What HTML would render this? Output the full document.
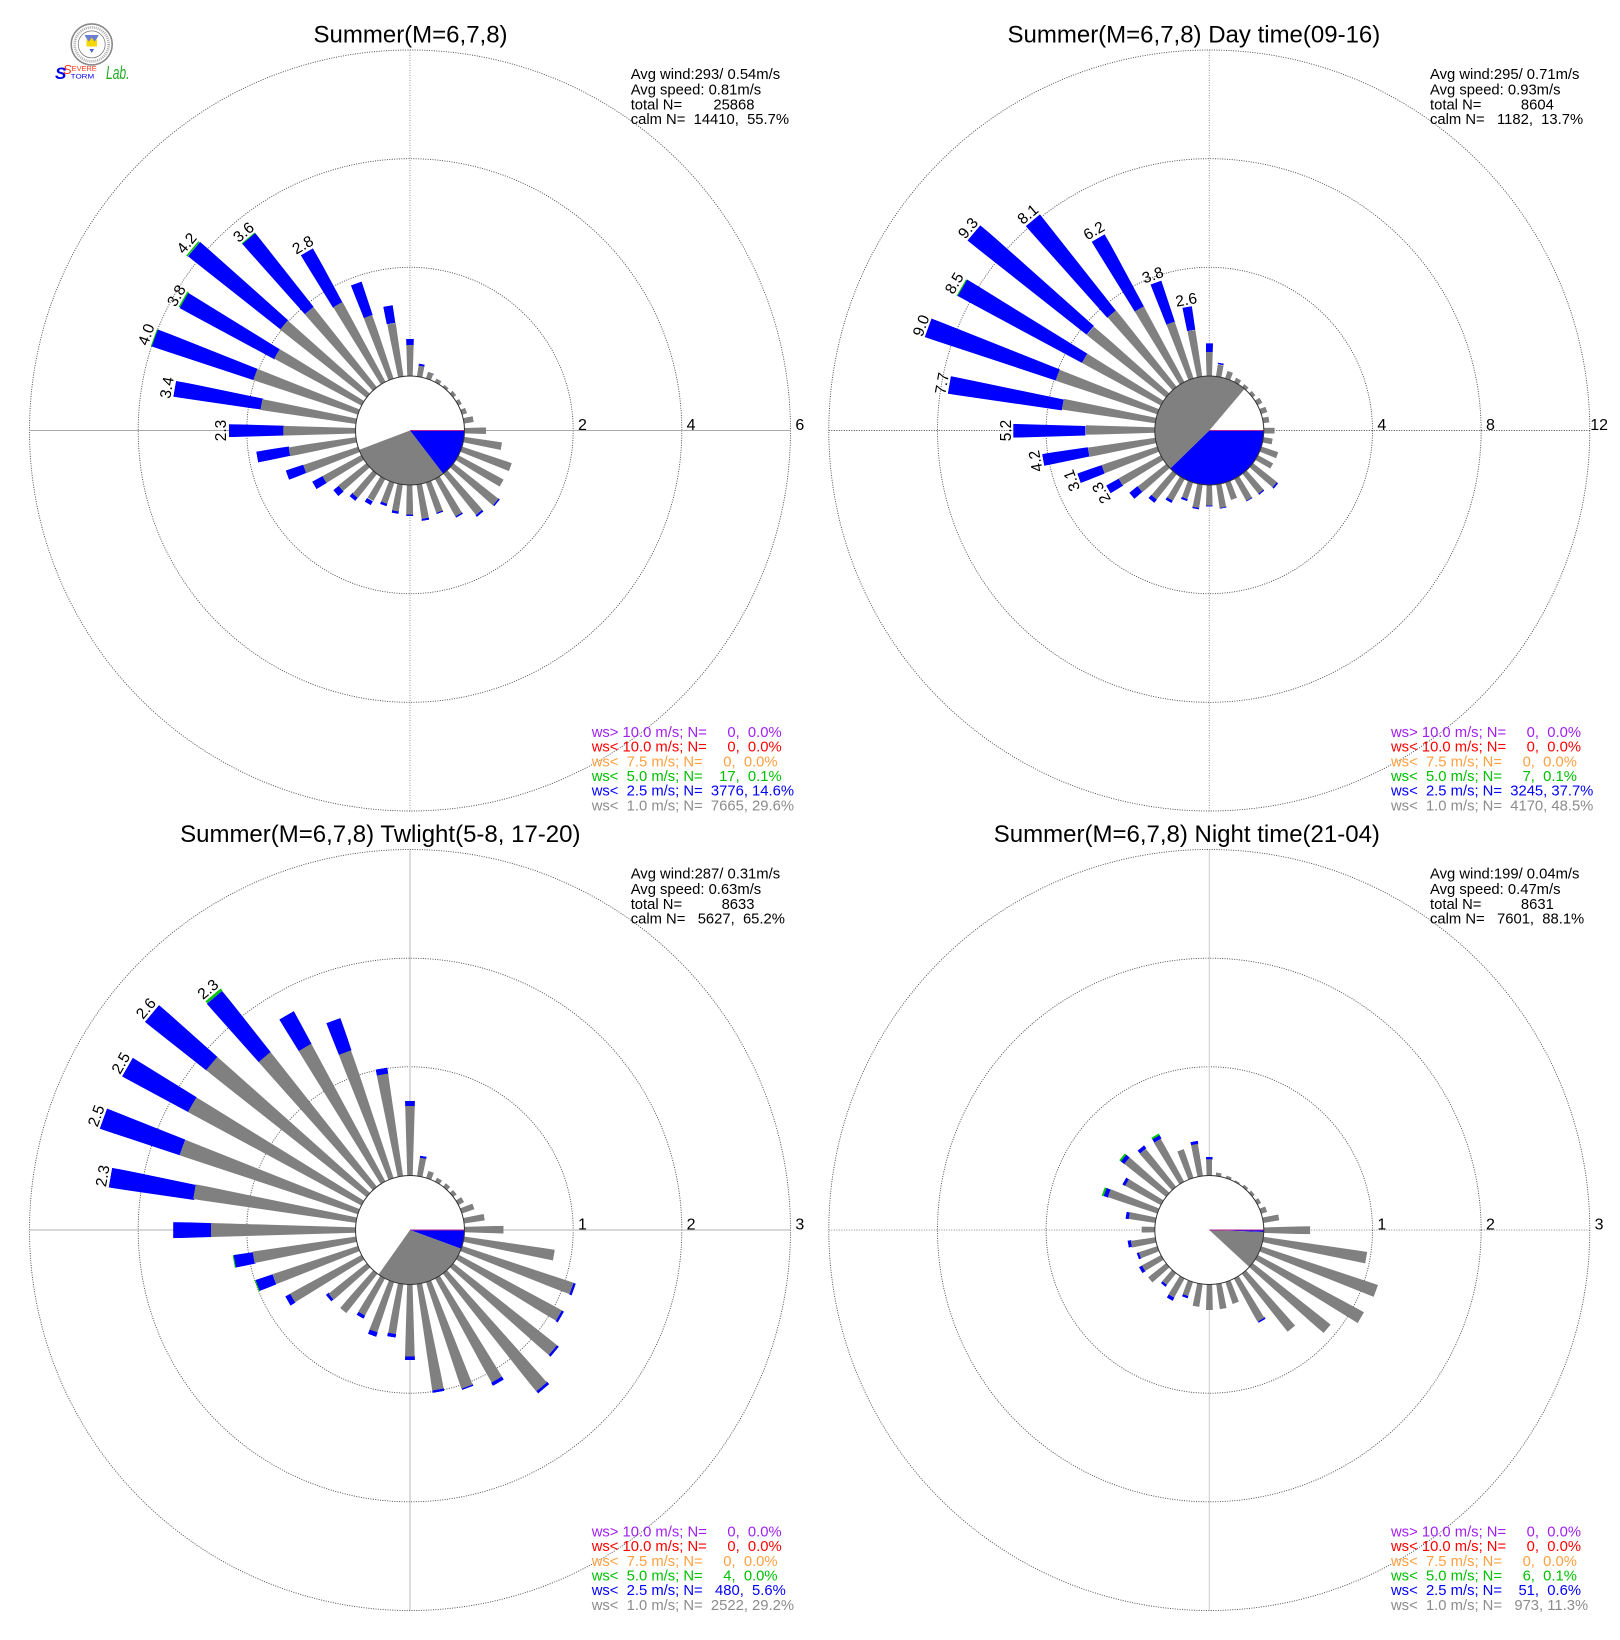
<!DOCTYPE html>
<html><head><meta charset="utf-8">
<style>
html,body{margin:0;padding:0;background:#fff}
#w{position:relative;width:1620px;height:1640px;overflow:hidden;background:#fff}
svg{position:absolute;left:0;top:0}
.p{position:absolute;left:0;top:0;width:1620px;height:1640px}
.b{position:absolute;display:block;--v0:0;--R:calc(54.5 + var(--v) * var(--s));--R0:calc(54.5 + var(--v0) * var(--s) - 0.6);left:calc(var(--cx) * 1px - var(--R) * 0.0297px - 1.1px);top:calc((var(--cy) - var(--R)) * 1px);width:calc(var(--R) * 0.0594px + 2.2px);height:calc(var(--R) * 1px);transform-origin:50% 100%;transform:rotate(calc(var(--a) * 1deg));clip-path:polygon(calc(50% - var(--R0) * 0.0297px - 1.1px) calc((var(--R) - var(--R0)) * 1px),calc(50% + var(--R0) * 0.0297px + 1.1px) calc((var(--R) - var(--R0)) * 1px),100% 0,0 0)}
.g{background:#808080}.u{background:#0000ff}.n{background:#00c800}
text{font-family:"Liberation Sans",Arial,sans-serif;white-space:pre}
</style></head>
<body>
<div id="w">
<svg width="1620" height="1640" viewBox="0 0 1620 1640">
 <g fill="none" stroke="#444" stroke-width="0.9" stroke-dasharray="1 1.4">
  <circle cx="410" cy="430.5" r="163.2"/><circle cx="410" cy="430.5" r="271.8"/><circle cx="410" cy="430.5" r="380.5"/>
  <circle cx="1209.3" cy="430.5" r="163.2"/><circle cx="1209.3" cy="430.5" r="271.8"/><circle cx="1209.3" cy="430.5" r="380.5"/>
  <circle cx="410" cy="1230" r="163.2"/><circle cx="410" cy="1230" r="271.8"/><circle cx="410" cy="1230" r="380.5"/>
  <circle cx="1209.3" cy="1230" r="163.2"/><circle cx="1209.3" cy="1230" r="271.8"/><circle cx="1209.3" cy="1230" r="380.5"/>
 </g>
 <line x1="29.5" y1="430.5" x2="790.5" y2="430.5" stroke="#aaa" stroke-width="1"/>
 <line x1="410" y1="50" x2="410" y2="811" stroke="#999" stroke-width="1" stroke-dasharray="1 1.5"/>
 <line x1="828.8" y1="430.5" x2="1589.8" y2="430.5" stroke="#444" stroke-width="1" stroke-dasharray="1 1.5"/>
 <line x1="1209.3" y1="50" x2="1209.3" y2="811" stroke="#999" stroke-width="1" stroke-dasharray="1 1.5"/>
 <line x1="29.5" y1="1230" x2="790.5" y2="1230" stroke="#ccc" stroke-width="1.5"/>
 <line x1="410" y1="849.5" x2="410" y2="1610.5" stroke="#bbb" stroke-width="1"/>
 <line x1="828.8" y1="1230" x2="1589.8" y2="1230" stroke="#888" stroke-width="1" stroke-dasharray="1 1.5"/>
 <line x1="1209.3" y1="849.5" x2="1209.3" y2="1610.5" stroke="#ccc" stroke-width="1"/>
</svg>

<div class="p" style="--cx:410;--cy:430.5;--s:54.33">
<i class="b u" style="--a:0;--v:.69;--v0:.57"></i><i class="b g" style="--a:0;--v:.57"></i>
<i class="b u" style="--a:10;--v:.24;--v0:.21"></i><i class="b g" style="--a:10;--v:.21"></i>
<i class="b u" style="--a:20;--v:.135;--v0:.12"></i><i class="b g" style="--a:20;--v:.12"></i>
<i class="b g" style="--a:30;--v:.07"></i>
<i class="b g" style="--a:40;--v:.05"></i>
<i class="b g" style="--a:50;--v:.07"></i>
<i class="b g" style="--a:60;--v:.075"></i>
<i class="b g" style="--a:70;--v:.1"></i>
<i class="b g" style="--a:80;--v:.18"></i>
<i class="b g" style="--a:90;--v:.39"></i>
<i class="b g" style="--a:100;--v:.71"></i>
<i class="b g" style="--a:110;--v:.96"></i>
<i class="b g" style="--a:120;--v:.94"></i>
<i class="b u" style="--a:130;--v:1.08;--v0:1.05"></i><i class="b g" style="--a:130;--v:1.05"></i>
<i class="b u" style="--a:140;--v:1.0;--v0:.97"></i><i class="b g" style="--a:140;--v:.97"></i>
<i class="b u" style="--a:150;--v:.82;--v0:.79"></i><i class="b g" style="--a:150;--v:.79"></i>
<i class="b u" style="--a:160;--v:.62;--v0:.60"></i><i class="b g" style="--a:160;--v:.60"></i>
<i class="b u" style="--a:170;--v:.67;--v0:.64"></i><i class="b g" style="--a:170;--v:.64"></i>
<i class="b u" style="--a:180;--v:.58;--v0:.55"></i><i class="b g" style="--a:180;--v:.55"></i>
<i class="b u" style="--a:190;--v:.54;--v0:.50"></i><i class="b g" style="--a:190;--v:.50"></i>
<i class="b u" style="--a:200;--v:.46;--v0:.41"></i><i class="b g" style="--a:200;--v:.41"></i>
<i class="b u" style="--a:210;--v:.54;--v0:.47"></i><i class="b g" style="--a:210;--v:.47"></i>
<i class="b u" style="--a:220;--v:.64;--v0:.56"></i><i class="b g" style="--a:220;--v:.56"></i>
<i class="b u" style="--a:230;--v:.78;--v0:.66"></i><i class="b g" style="--a:230;--v:.66"></i>
<i class="b u" style="--a:240;--v:1.04;--v0:.82"></i><i class="b g" style="--a:240;--v:.82"></i>
<i class="b u" style="--a:250;--v:1.40;--v0:1.07"></i><i class="b g" style="--a:250;--v:1.07"></i>
<i class="b u" style="--a:260;--v:1.85;--v0:1.25"></i><i class="b g" style="--a:260;--v:1.25"></i>
<i class="b u" style="--a:270;--v:2.34;--v0:1.33"></i><i class="b g" style="--a:270;--v:1.33"></i>
<i class="b u" style="--a:280;--v:3.40;--v0:1.77"></i><i class="b g" style="--a:280;--v:1.77"></i>
<i class="b n" style="--a:290;--v:4.02;--v0:4.0"></i><i class="b u" style="--a:290;--v:4.0;--v0:2.03"></i><i class="b g" style="--a:290;--v:2.03"></i>
<i class="b n" style="--a:300;--v:3.82;--v0:3.8"></i><i class="b u" style="--a:300;--v:3.8;--v0:1.82"></i><i class="b g" style="--a:300;--v:1.82"></i>
<i class="b n" style="--a:310;--v:4.22;--v0:4.2"></i><i class="b u" style="--a:310;--v:4.2;--v0:2.03"></i><i class="b g" style="--a:310;--v:2.03"></i>
<i class="b n" style="--a:320;--v:3.62;--v0:3.6"></i><i class="b u" style="--a:320;--v:3.6;--v0:1.88"></i><i class="b g" style="--a:320;--v:1.88"></i>
<i class="b u" style="--a:330;--v:2.8;--v0:1.67"></i><i class="b g" style="--a:330;--v:1.67"></i>
<i class="b u" style="--a:340;--v:1.88;--v0:1.24"></i><i class="b g" style="--a:340;--v:1.24"></i>
<i class="b u" style="--a:350;--v:1.32;--v0:1.0"></i><i class="b g" style="--a:350;--v:1.0"></i>
</div>

<div class="p" style="--cx:1209.3;--cy:430.5;--s:27.17">
<i class="b u" style="--a:0;--v:1.2;--v0:.9"></i><i class="b g" style="--a:0;--v:.9"></i>
<i class="b u" style="--a:10;--v:.5;--v0:.46"></i><i class="b g" style="--a:10;--v:.46"></i>
<i class="b g" style="--a:20;--v:.29"></i>
<i class="b g" style="--a:30;--v:.19"></i>
<i class="b g" style="--a:40;--v:.15"></i>
<i class="b g" style="--a:50;--v:.15"></i>
<i class="b g" style="--a:60;--v:.21"></i>
<i class="b g" style="--a:70;--v:.25"></i>
<i class="b g" style="--a:80;--v:.24"></i>
<i class="b g" style="--a:90;--v:.41"></i>
<i class="b g" style="--a:100;--v:.36"></i>
<i class="b g" style="--a:110;--v:.66"></i>
<i class="b g" style="--a:120;--v:.65"></i>
<i class="b u" style="--a:130;--v:1.18;--v0:1.13"></i><i class="b g" style="--a:130;--v:1.13"></i>
<i class="b u" style="--a:140;--v:.99;--v0:.95"></i><i class="b g" style="--a:140;--v:.95"></i>
<i class="b u" style="--a:150;--v:.95;--v0:.92"></i><i class="b g" style="--a:150;--v:.92"></i>
<i class="b g" style="--a:160;--v:.67"></i>
<i class="b u" style="--a:170;--v:.91;--v0:.86"></i><i class="b g" style="--a:170;--v:.86"></i>
<i class="b u" style="--a:180;--v:.8;--v0:.75"></i><i class="b g" style="--a:180;--v:.75"></i>
<i class="b u" style="--a:190;--v:.94;--v0:.86"></i><i class="b g" style="--a:190;--v:.86"></i>
<i class="b u" style="--a:200;--v:.71;--v0:.65"></i><i class="b g" style="--a:200;--v:.65"></i>
<i class="b u" style="--a:210;--v:1.02;--v0:.90"></i><i class="b g" style="--a:210;--v:.90"></i>
<i class="b u" style="--a:220;--v:1.34;--v0:1.19"></i><i class="b g" style="--a:220;--v:1.19"></i>
<i class="b u" style="--a:230;--v:1.71;--v0:1.34"></i><i class="b g" style="--a:230;--v:1.34"></i>
<i class="b u" style="--a:240;--v:2.3;--v0:1.77"></i><i class="b g" style="--a:240;--v:1.77"></i>
<i class="b u" style="--a:250;--v:3.1;--v0:2.17"></i><i class="b g" style="--a:250;--v:2.17"></i>
<i class="b u" style="--a:260;--v:4.2;--v0:2.52"></i><i class="b g" style="--a:260;--v:2.52"></i>
<i class="b u" style="--a:270;--v:5.2;--v0:2.56"></i><i class="b g" style="--a:270;--v:2.56"></i>
<i class="b u" style="--a:280;--v:7.7;--v0:3.48"></i><i class="b g" style="--a:280;--v:3.48"></i>
<i class="b u" style="--a:290;--v:9.0;--v0:3.93"></i><i class="b g" style="--a:290;--v:3.93"></i>
<i class="b n" style="--a:300;--v:8.55;--v0:8.5"></i><i class="b u" style="--a:300;--v:8.5;--v0:3.31"></i><i class="b g" style="--a:300;--v:3.31"></i>
<i class="b u" style="--a:310;--v:9.3;--v0:3.73"></i><i class="b g" style="--a:310;--v:3.73"></i>
<i class="b u" style="--a:320;--v:8.1;--v0:3.6"></i><i class="b g" style="--a:320;--v:3.6"></i>
<i class="b u" style="--a:330;--v:6.2;--v0:3.16"></i><i class="b g" style="--a:330;--v:3.16"></i>
<i class="b u" style="--a:340;--v:3.8;--v0:2.19"></i><i class="b g" style="--a:340;--v:2.19"></i>
<i class="b u" style="--a:350;--v:2.6;--v0:1.74"></i><i class="b g" style="--a:350;--v:1.74"></i>
</div>

<div class="p" style="--cx:410;--cy:1230;--s:108.67">
<i class="b u" style="--a:0;--v:.69;--v0:.64"></i><i class="b g" style="--a:0;--v:.64"></i>
<i class="b u" style="--a:10;--v:.19;--v0:.17"></i><i class="b g" style="--a:10;--v:.17"></i>
<i class="b g" style="--a:20;--v:.07"></i>
<i class="b g" style="--a:30;--v:.045"></i>
<i class="b g" style="--a:40;--v:.045"></i>
<i class="b g" style="--a:50;--v:.04"></i>
<i class="b g" style="--a:60;--v:.06"></i>
<i class="b g" style="--a:70;--v:.12"></i>
<i class="b g" style="--a:80;--v:.19"></i>
<i class="b g" style="--a:90;--v:.36"></i>
<i class="b g" style="--a:100;--v:.84"></i>
<i class="b u" style="--a:110;--v:1.10;--v0:1.08"></i><i class="b g" style="--a:110;--v:1.08"></i>
<i class="b u" style="--a:120;--v:1.10;--v0:1.08"></i><i class="b g" style="--a:120;--v:1.08"></i>
<i class="b u" style="--a:130;--v:1.24;--v0:1.22"></i><i class="b g" style="--a:130;--v:1.22"></i>
<i class="b u" style="--a:140;--v:1.41;--v0:1.38"></i><i class="b g" style="--a:140;--v:1.38"></i>
<i class="b u" style="--a:150;--v:1.12;--v0:1.09"></i><i class="b g" style="--a:150;--v:1.09"></i>
<i class="b u" style="--a:160;--v:1.05;--v0:1.03"></i><i class="b g" style="--a:160;--v:1.03"></i>
<i class="b u" style="--a:170;--v:1.01;--v0:.99"></i><i class="b g" style="--a:170;--v:.99"></i>
<i class="b u" style="--a:180;--v:.70;--v0:.66"></i><i class="b g" style="--a:180;--v:.66"></i>
<i class="b u" style="--a:190;--v:.50;--v0:.47"></i><i class="b g" style="--a:190;--v:.47"></i>
<i class="b u" style="--a:200;--v:.53;--v0:.49"></i><i class="b g" style="--a:200;--v:.49"></i>
<i class="b u" style="--a:210;--v:.42;--v0:.39"></i><i class="b g" style="--a:210;--v:.39"></i>
<i class="b g" style="--a:220;--v:.46"></i>
<i class="b u" style="--a:230;--v:.48;--v0:.45"></i><i class="b g" style="--a:230;--v:.45"></i>
<i class="b u" style="--a:240;--v:.80;--v0:.75"></i><i class="b g" style="--a:240;--v:.75"></i>
<i class="b n" style="--a:250;--v:1.0;--v0:.99"></i><i class="b u" style="--a:250;--v:.99;--v0:.83"></i><i class="b g" style="--a:250;--v:.83"></i>
<i class="b n" style="--a:260;--v:1.15;--v0:1.14"></i><i class="b u" style="--a:260;--v:1.14;--v0:.96"></i><i class="b g" style="--a:260;--v:.96"></i>
<i class="b u" style="--a:270;--v:1.68;--v0:1.33"></i><i class="b g" style="--a:270;--v:1.33"></i>
<i class="b u" style="--a:280;--v:2.3;--v0:1.51"></i><i class="b g" style="--a:280;--v:1.51"></i>
<i class="b u" style="--a:290;--v:2.5;--v0:1.73"></i><i class="b g" style="--a:290;--v:1.73"></i>
<i class="b u" style="--a:300;--v:2.5;--v0:1.81"></i><i class="b g" style="--a:300;--v:1.81"></i>
<i class="b u" style="--a:310;--v:2.6;--v0:1.88"></i><i class="b g" style="--a:310;--v:1.88"></i>
<i class="b n" style="--a:320;--v:2.32;--v0:2.3"></i><i class="b u" style="--a:320;--v:2.3;--v0:1.58"></i><i class="b g" style="--a:320;--v:1.58"></i>
<i class="b u" style="--a:330;--v:1.78;--v0:1.44"></i><i class="b g" style="--a:330;--v:1.44"></i>
<i class="b u" style="--a:340;--v:1.55;--v0:1.24"></i><i class="b g" style="--a:340;--v:1.24"></i>
<i class="b u" style="--a:350;--v:1.01;--v0:.95"></i><i class="b g" style="--a:350;--v:.95"></i>
</div>

<div class="p" style="--cx:1209.3;--cy:1230;--s:108.67">
<i class="b u" style="--a:0;--v:.17;--v0:.15"></i><i class="b g" style="--a:0;--v:.15"></i>
<i class="b g" style="--a:10;--v:.03"></i>
<i class="b g" style="--a:20;--v:.02"></i>
<i class="b g" style="--a:30;--v:.01"></i>
<i class="b g" style="--a:40;--v:.02"></i>
<i class="b g" style="--a:50;--v:.03"></i>
<i class="b g" style="--a:60;--v:.04"></i>
<i class="b g" style="--a:70;--v:.06"></i>
<i class="b g" style="--a:80;--v:.15"></i>
<i class="b g" style="--a:90;--v:.43"></i>
<i class="b g" style="--a:100;--v:.97"></i>
<i class="b g" style="--a:110;--v:1.13"></i>
<i class="b g" style="--a:120;--v:1.11"></i>
<i class="b g" style="--a:130;--v:.91"></i>
<i class="b g" style="--a:140;--v:.68"></i>
<i class="b u" style="--a:150;--v:.47;--v0:.45"></i><i class="b g" style="--a:150;--v:.45"></i>
<i class="b g" style="--a:160;--v:.21"></i>
<i class="b g" style="--a:170;--v:.23"></i>
<i class="b g" style="--a:180;--v:.23"></i>
<i class="b g" style="--a:190;--v:.21"></i>
<i class="b u" style="--a:200;--v:.16;--v0:.14"></i><i class="b g" style="--a:200;--v:.14"></i>
<i class="b u" style="--a:210;--v:.23;--v0:.20"></i><i class="b g" style="--a:210;--v:.20"></i>
<i class="b u" style="--a:220;--v:.16;--v0:.14"></i><i class="b g" style="--a:220;--v:.14"></i>
<i class="b g" style="--a:230;--v:.21"></i>
<i class="b u" style="--a:240;--v:.23;--v0:.20"></i><i class="b g" style="--a:240;--v:.20"></i>
<i class="b u" style="--a:250;--v:.20;--v0:.18"></i><i class="b g" style="--a:250;--v:.18"></i>
<i class="b u" style="--a:260;--v:.26;--v0:.23"></i><i class="b g" style="--a:260;--v:.23"></i>
<i class="b g" style="--a:270;--v:.12"></i>
<i class="b u" style="--a:280;--v:.28;--v0:.25"></i><i class="b g" style="--a:280;--v:.25"></i>
<i class="b n" style="--a:290;--v:.54;--v0:.52"></i><i class="b u" style="--a:290;--v:.52;--v0:.48"></i><i class="b g" style="--a:290;--v:.48"></i>
<i class="b u" style="--a:300;--v:.40;--v0:.37"></i><i class="b g" style="--a:300;--v:.37"></i>
<i class="b n" style="--a:310;--v:.55;--v0:.53"></i><i class="b u" style="--a:310;--v:.53;--v0:.49"></i><i class="b g" style="--a:310;--v:.49"></i>
<i class="b u" style="--a:320;--v:.48;--v0:.45"></i><i class="b g" style="--a:320;--v:.45"></i>
<i class="b n" style="--a:330;--v:.50;--v0:.48"></i><i class="b u" style="--a:330;--v:.48;--v0:.45"></i><i class="b g" style="--a:330;--v:.45"></i>
<i class="b g" style="--a:340;--v:.28"></i>
<i class="b u" style="--a:350;--v:.33;--v0:.30"></i><i class="b g" style="--a:350;--v:.30"></i>
</div>

<svg width="1620" height="1640" viewBox="0 0 1620 1640">
 <circle cx="410" cy="430.5" r="54.5" fill="#fff"/>
 <path d="M410 430.5 L464.5 430.5 A54.5 54.5 0 0 1 443.13 473.77 Z" fill="#0000ff"/>
 <path d="M410 430.5 L443.13 473.77 A54.5 54.5 0 0 1 359.08 449.92 Z" fill="#808080"/>
 <line x1="410" y1="430.5" x2="464.5" y2="430.5" stroke="#b0208f" stroke-width="1"/>
 <circle cx="410" cy="430.5" r="54.5" fill="none" stroke="#333" stroke-width="1"/>

 <circle cx="1209.3" cy="430.5" r="54.5" fill="#fff"/>
 <path d="M1209.3 430.5 L1263.8 430.5 A54.5 54.5 0 0 1 1170.28 468.55 Z" fill="#0000ff"/>
 <path d="M1209.3 430.5 L1170.28 468.55 A54.5 54.5 0 0 1 1244.55 388.93 Z" fill="#808080"/>
 <line x1="1209.3" y1="430.5" x2="1263.8" y2="430.5" stroke="#b0208f" stroke-width="1"/>
 <circle cx="1209.3" cy="430.5" r="54.5" fill="none" stroke="#333" stroke-width="1"/>

 <circle cx="410" cy="1230" r="54.5" fill="#fff"/>
 <path d="M410 1230 L464.5 1230 A54.5 54.5 0 0 1 461.16 1248.78 Z" fill="#0000ff"/>
 <path d="M410 1230 L461.16 1248.78 A54.5 54.5 0 0 1 378.52 1274.49 Z" fill="#808080"/>
 <line x1="410" y1="1230" x2="464.5" y2="1230" stroke="#b0208f" stroke-width="1"/>
 <circle cx="410" cy="1230" r="54.5" fill="none" stroke="#333" stroke-width="1"/>

 <circle cx="1209.3" cy="1230" r="54.5" fill="#fff"/>
 <path d="M1209.3 1230 L1263.8 1230 A54.5 54.5 0 0 1 1263.76 1232.05 Z" fill="#0000ff"/>
 <path d="M1209.3 1230 L1263.76 1232.05 A54.5 54.5 0 0 1 1249.26 1267.06 Z" fill="#808080"/>
 <line x1="1209.3" y1="1230" x2="1263.8" y2="1230" stroke="#b0208f" stroke-width="1"/>
 <circle cx="1209.3" cy="1230" r="54.5" fill="none" stroke="#333" stroke-width="1"/>

 <g font-size="24" fill="#000">
  <text x="313.5" y="42.7">Summer(M=6,7,8)</text>
  <text x="1007.5" y="42.7">Summer(M=6,7,8) Day time(09-16)</text>
  <text x="180.1" y="842.2">Summer(M=6,7,8) Twlight(5-8, 17-20)</text>
  <text x="993.8" y="842.2">Summer(M=6,7,8) Night time(21-04)</text>
 </g>

 <g font-size="16" fill="#000" text-anchor="middle">
  <text x="582.5" y="430">2</text><text x="691.1" y="430">4</text><text x="799.8" y="430">6</text>
  <text x="1381.8" y="430">4</text><text x="1490.4" y="430">8</text><text x="1599.1" y="430">12</text>
  <text x="582.5" y="1229.5">1</text><text x="691.1" y="1229.5">2</text><text x="799.8" y="1229.5">3</text>
  <text x="1381.8" y="1229.5">1</text><text x="1490.4" y="1229.5">2</text><text x="1599.1" y="1229.5">3</text>
 </g>

 <g font-size="15.5" fill="#000" text-anchor="middle">
  <text x="410" y="246.4" transform="rotate(270 410 430.5)">2.3</text>
  <text x="410" y="188.8" transform="rotate(280 410 430.5)">3.4</text>
  <text x="410" y="155.1" transform="rotate(290 410 430.5)">4.0</text>
  <text x="410" y="166" transform="rotate(300 410 430.5)">3.8</text>
  <text x="410" y="144.2" transform="rotate(310 410 430.5)">4.2</text>
  <text x="410" y="176.8" transform="rotate(320 410 430.5)">3.6</text>
  <text x="410" y="221.4" transform="rotate(330 410 430.5)">2.8</text>

  <text x="1209.3" y="311" transform="rotate(240 1209.3 430.5)">2.3</text>
  <text x="1209.3" y="289.3" transform="rotate(250 1209.3 430.5)">3.1</text>
  <text x="1209.3" y="259.4" transform="rotate(260 1209.3 430.5)">4.2</text>
  <text x="1209.3" y="232.2" transform="rotate(270 1209.3 430.5)">5.2</text>
  <text x="1209.3" y="164.3" transform="rotate(280 1209.3 430.5)">7.7</text>
  <text x="1209.3" y="129" transform="rotate(290 1209.3 430.5)">9.0</text>
  <text x="1209.3" y="141.2" transform="rotate(300 1209.3 430.5)">8.5</text>
  <text x="1209.3" y="120.8" transform="rotate(310 1209.3 430.5)">9.3</text>
  <text x="1209.3" y="153.4" transform="rotate(320 1209.3 430.5)">8.1</text>
  <text x="1209.3" y="205" transform="rotate(330 1209.3 430.5)">6.2</text>
  <text x="1209.3" y="270.3" transform="rotate(340 1209.3 430.5)">3.8</text>
  <text x="1209.3" y="302.9" transform="rotate(350 1209.3 430.5)">2.6</text>

  <text x="410" y="923.1" transform="rotate(280 410 1230)">2.3</text>
  <text x="410" y="901.3" transform="rotate(290 410 1230)">2.5</text>
  <text x="410" y="901.3" transform="rotate(300 410 1230)">2.5</text>
  <text x="410" y="890.5" transform="rotate(310 410 1230)">2.6</text>
  <text x="410" y="920.9" transform="rotate(320 410 1230)">2.3</text>
 </g>

 <g font-size="14.8" fill="#000">
  <text x="630.7" y="79">Avg wind:293/ 0.54m/s</text>
  <text x="630.7" y="94.6">Avg speed: 0.81m/s</text>
  <text x="630.7" y="109.3">total N=</text><text x="754.5" y="109.3" text-anchor="end">25868</text>
  <text x="630.7" y="124" xml:space="preserve">calm N=  14410,  55.7%</text>

  <text x="1430" y="79">Avg wind:295/ 0.71m/s</text>
  <text x="1430" y="94.6">Avg speed: 0.93m/s</text>
  <text x="1430" y="109.3">total N=</text><text x="1553.8" y="109.3" text-anchor="end">8604</text>
  <text x="1430" y="124" xml:space="preserve">calm N=   1182,  13.7%</text>

  <text x="630.7" y="878.5">Avg wind:287/ 0.31m/s</text>
  <text x="630.7" y="894.1">Avg speed: 0.63m/s</text>
  <text x="630.7" y="908.8">total N=</text><text x="754.5" y="908.8" text-anchor="end">8633</text>
  <text x="630.7" y="923.5" xml:space="preserve">calm N=   5627,  65.2%</text>

  <text x="1430" y="878.5">Avg wind:199/ 0.04m/s</text>
  <text x="1430" y="894.1">Avg speed: 0.47m/s</text>
  <text x="1430" y="908.8">total N=</text><text x="1553.8" y="908.8" text-anchor="end">8631</text>
  <text x="1430" y="923.5" xml:space="preserve">calm N=   7601,  88.1%</text>
 </g>

 <g font-size="14.8">
  <text x="591.7" y="737" fill="#a020f0" xml:space="preserve">ws&gt; 10.0 m/s; N=     0,  0.0%</text>
  <text x="591.7" y="751.7" fill="#ff0000" xml:space="preserve">ws&lt; 10.0 m/s; N=     0,  0.0%</text>
  <text x="591.7" y="766.3" fill="#ffa040" xml:space="preserve">ws&lt;  7.5 m/s; N=     0,  0.0%</text>
  <text x="591.7" y="781" fill="#00c000" xml:space="preserve">ws&lt;  5.0 m/s; N=    17,  0.1%</text>
  <text x="591.7" y="795.7" fill="#0000ff" xml:space="preserve">ws&lt;  2.5 m/s; N=  3776, 14.6%</text>
  <text x="591.7" y="810.3" fill="#8c8c8c" xml:space="preserve">ws&lt;  1.0 m/s; N=  7665, 29.6%</text>

  <text x="1391" y="737" fill="#a020f0" xml:space="preserve">ws&gt; 10.0 m/s; N=     0,  0.0%</text>
  <text x="1391" y="751.7" fill="#ff0000" xml:space="preserve">ws&lt; 10.0 m/s; N=     0,  0.0%</text>
  <text x="1391" y="766.3" fill="#ffa040" xml:space="preserve">ws&lt;  7.5 m/s; N=     0,  0.0%</text>
  <text x="1391" y="781" fill="#00c000" xml:space="preserve">ws&lt;  5.0 m/s; N=     7,  0.1%</text>
  <text x="1391" y="795.7" fill="#0000ff" xml:space="preserve">ws&lt;  2.5 m/s; N=  3245, 37.7%</text>
  <text x="1391" y="810.3" fill="#8c8c8c" xml:space="preserve">ws&lt;  1.0 m/s; N=  4170, 48.5%</text>

  <text x="591.7" y="1536.5" fill="#a020f0" xml:space="preserve">ws&gt; 10.0 m/s; N=     0,  0.0%</text>
  <text x="591.7" y="1551.2" fill="#ff0000" xml:space="preserve">ws&lt; 10.0 m/s; N=     0,  0.0%</text>
  <text x="591.7" y="1565.8" fill="#ffa040" xml:space="preserve">ws&lt;  7.5 m/s; N=     0,  0.0%</text>
  <text x="591.7" y="1580.5" fill="#00c000" xml:space="preserve">ws&lt;  5.0 m/s; N=     4,  0.0%</text>
  <text x="591.7" y="1595.2" fill="#0000ff" xml:space="preserve">ws&lt;  2.5 m/s; N=   480,  5.6%</text>
  <text x="591.7" y="1609.8" fill="#8c8c8c" xml:space="preserve">ws&lt;  1.0 m/s; N=  2522, 29.2%</text>

  <text x="1391" y="1536.5" fill="#a020f0" xml:space="preserve">ws&gt; 10.0 m/s; N=     0,  0.0%</text>
  <text x="1391" y="1551.2" fill="#ff0000" xml:space="preserve">ws&lt; 10.0 m/s; N=     0,  0.0%</text>
  <text x="1391" y="1565.8" fill="#ffa040" xml:space="preserve">ws&lt;  7.5 m/s; N=     0,  0.0%</text>
  <text x="1391" y="1580.5" fill="#00c000" xml:space="preserve">ws&lt;  5.0 m/s; N=     6,  0.1%</text>
  <text x="1391" y="1595.2" fill="#0000ff" xml:space="preserve">ws&lt;  2.5 m/s; N=    51,  0.6%</text>
  <text x="1391" y="1609.8" fill="#8c8c8c" xml:space="preserve">ws&lt;  1.0 m/s; N=   973, 11.3%</text>
 </g>

 <g>
  <circle cx="91.7" cy="44.4" r="20.5" fill="#fff" stroke="#888" stroke-width="1.6"/>
  <circle cx="91.7" cy="44.4" r="17" fill="none" stroke="#aaa" stroke-width="2.6" stroke-dasharray="1 1"/>
  <circle cx="91.7" cy="44.4" r="13.5" fill="#fff" stroke="#777" stroke-width="0.8"/>
  <polygon points="84.5,35 98.9,35 91.7,47" fill="#6a7fd0"/>
  <polygon points="86.5,39 89,41.5 91.7,37.5 94.4,41.5 97,39 97,46.5 86.5,46.5" fill="#f4d600"/>
  <polygon points="89.5,49 94,49 91.7,53" fill="#4060d0"/>
  <text x="55" y="79" font-size="17" font-style="italic" font-weight="bold" fill="#0000ee">S</text>
  <text x="63" y="74" font-size="13" font-style="italic" fill="#ff3a1a">S</text>
  <text x="71.7" y="71" font-size="7" fill="#ff3a1a" textLength="25" lengthAdjust="spacingAndGlyphs">EVERE</text>
  <text x="70.7" y="78.7" font-size="6.5" fill="#0000ee" textLength="23.5" lengthAdjust="spacingAndGlyphs">TORM</text>
  <text x="106" y="79" font-size="18" font-style="italic" fill="#22aa22" textLength="23.5" lengthAdjust="spacingAndGlyphs">Lab.</text>
 </g>
</svg>
</div>
</body></html>
